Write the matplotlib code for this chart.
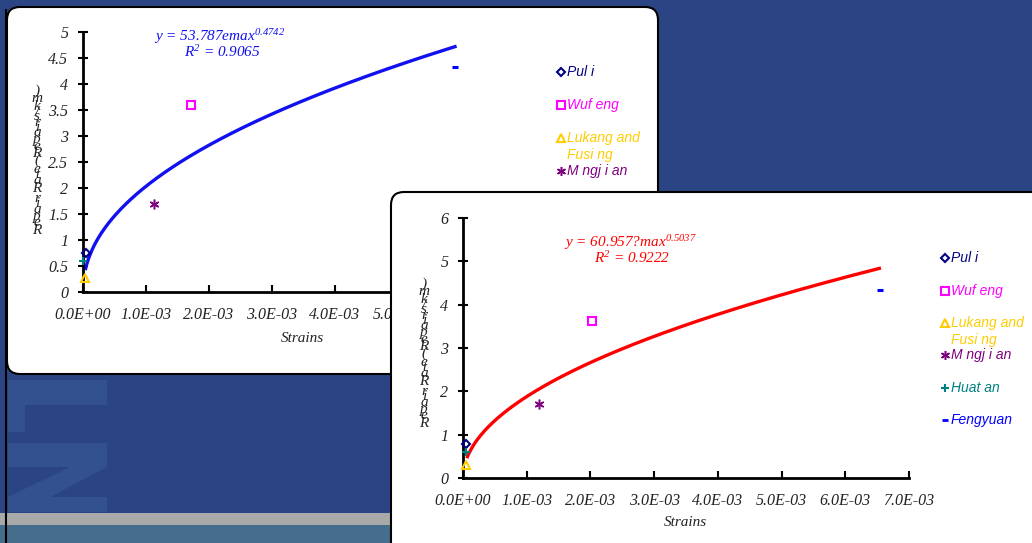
import numpy as np
import matplotlib
matplotlib.use('Agg')
import matplotlib.pyplot as plt
from matplotlib.patches import Rectangle, FancyBboxPatch, Polygon
from matplotlib.font_manager import FontProperties
from matplotlib.textpath import TextToPath

plt.rcParams['mathtext.fontset'] = 'custom'
plt.rcParams['mathtext.rm'] = 'Liberation Serif:italic'
plt.rcParams['mathtext.it'] = 'Liberation Serif:italic'

# ------------------------- data --------------------------------
sites = ['Pul i', 'Wuf eng', 'Lukang and', 'M ngj i an', 'Huat an', 'Fengyuan']
site_colors = ['#000080', '#FF00FF', '#FFCC00', '#800080', '#008080', '#0000FF']
site_markers = ['D', 's', '^', (6, 2, 0), '+', '_']

# left chart (blue fit)
left_strain = [0.05e-3, 1.71e-3, 0.03e-3, 1.13e-3, 0.0, 5.9e-3]
left_rate = [0.75, 3.6, 0.27, 1.69, 0.6, 4.33]
left_fit = (53.787, 0.4742)
left_fit_range = (3.6e-5, 5.93e-3)
left_eq = 'y = 53.787emax$^{0.4742}$'
left_r2 = 'R$^{2}$ = 0.9065'

# right chart (red fit)
right_strain = [0.05e-3, 2.02e-3, 0.04e-3, 1.2e-3, 0.05e-3, 6.55e-3]
right_rate = [0.78, 3.62, 0.3, 1.7, 0.6, 4.34]
right_fit = (60.957, 0.5037)
right_fit_range = (6e-5, 6.56e-3)
right_eq = 'y = 60.957?max$^{0.5037}$'
right_r2 = 'R$^{2}$ = 0.9222'

x_ticks = [0, 1e-3, 2e-3, 3e-3, 4e-3, 5e-3, 6e-3, 7e-3]
ylabel = 'Repair Rate (Repairs/km)'

# ------------------------- figure --------------------------------
W, H = 1032, 543
fig = plt.figure(figsize=(W / 100, H / 100), dpi=100)

serif = 'Liberation Serif'
sans = 'Liberation Sans'
ink = '#222222'


def fr(x, y):
    return x / W, 1 - y / H


def pixel_axes(z):
    a = fig.add_axes([0, 0, 1, 1], zorder=z)
    a.set_xlim(0, W)
    a.set_ylim(H, 0)
    a.axis('off')
    a.patch.set_visible(False)
    return a


# background slide
bg = pixel_axes(0)
bg.add_patch(Rectangle((0, 0), W, H, color='#2B4584'))
faint = '#33508F'
bg.add_patch(Rectangle((8, 380), 99, 25, color=faint, lw=0))
bg.add_patch(Rectangle((8, 405), 17, 27, color=faint, lw=0))
bg.add_patch(Rectangle((8, 443), 99, 24, color=faint, lw=0))
bg.add_patch(Polygon([(70, 467), (107, 467), (50, 497), (8, 497)], color=faint, lw=0))
bg.add_patch(Rectangle((8, 497), 99, 15, color=faint, lw=0))
bg.add_patch(Rectangle((0, 513), W, 12, color='#A9A9A9', lw=0))
bg.add_patch(Rectangle((0, 525), W, 20, color='#456D8C', lw=0))
bg.plot([5.5, 5.5], [10, H], color='black', lw=1.5)
bg.add_patch(FancyBboxPatch((7, 7), 651, 367, boxstyle='round,pad=0,rounding_size=13',
                            fc='white', ec='black', lw=1.5))

# right panel overlay
top = pixel_axes(2)
top.add_patch(FancyBboxPatch((391, 192), 700, 400, boxstyle='round,pad=0,rounding_size=13',
                             fc='white', ec='black', lw=1.5))

ttp = TextToPath()


def stacked_label(ax, s, x, y_bottom, size):
    # vertical text whose glyphs stayed upright
    prop = FontProperties(family=serif, style='italic', size=size)
    base = ttp.get_text_width_height_descent('xx', prop, ismath=False)[0]
    y = y_bottom
    for ch in s:
        adv = ttp.get_text_width_height_descent('x' + ch + 'x', prop, ismath=False)[0] - base
        adv = adv * fig.dpi / 72
        if ch != ' ':
            fx, fy = fr(x, y - adv / 2)
            ax.text(fx, fy, ch, transform=fig.transFigure, fontproperties=prop,
                    color=ink, ha='center', va='center', clip_on=False)
        y -= adv * 0.93


def draw_chart(ax, strain, rate, fit, fit_range, color, ymax, yticks, ylabels,
               eq, r2, eq_xy, lab_xy, leg_x, leg_ys, ylab_xy):
    ax.patch.set_visible(False)
    for s in ['top', 'right']:
        ax.spines[s].set_visible(False)
    for s in ['left', 'bottom']:
        ax.spines[s].set_linewidth(2)
    ax.set_xlim(0, 7e-3)
    ax.set_ylim(0, ymax)
    ax.set_xticks(x_ticks)
    ax.set_xticklabels(['{:.1E}'.format(v) for v in x_ticks])
    ax.set_yticks(yticks)
    ax.set_yticklabels(ylabels)
    ax.tick_params(axis='x', direction='in', length=5, width=1.5, pad=11)
    ax.tick_params(axis='y', direction='inout', length=7, width=1.5, pad=7)
    for t in ax.get_xticklabels() + ax.get_yticklabels():
        t.set_fontfamily(serif)
        t.set_fontstyle('italic')
        t.set_fontsize(11.5)
        t.set_color(ink)

    a, b = fit
    xf = np.linspace(fit_range[0], fit_range[1], 300)
    ax.plot(xf, a * xf ** b, color=color, lw=2.4, solid_capstyle='butt', clip_on=False)

    sizes = {'D': 4.5, 's': 5.5, '^': 5.5, '+': 6, '_': 5}
    for i in range(len(strain)):
        m = site_markers[i]
        filled = m in ['+', '_', (6, 2, 0)]
        ax.plot(strain[i], rate[i], marker=m, ls='none',
                ms=sizes.get(m, 7), mew=2.2 if m == '_' else (1.1 if m == (6, 2, 0) else 1.5),
                mfc=site_colors[i] if filled else 'none',
                mec=site_colors[i], clip_on=False, zorder=5)

    fx, fy = fr(*eq_xy)
    ax.text(fx, fy, eq, transform=fig.transFigure, color=color, fontsize=11,
            fontfamily=serif, style='italic', ha='center', va='center')
    fx, fy = fr(eq_xy[0] + 2, eq_xy[1] + 15)
    ax.text(fx, fy, r2, transform=fig.transFigure, color=color, fontsize=11,
            fontfamily=serif, style='italic', ha='center', va='center')

    fx, fy = fr(*lab_xy)
    ax.text(fx, fy, 'Strains', transform=fig.transFigure, color=ink, fontsize=11,
            fontfamily=serif, style='italic', ha='center', va='center')

    # legend drawn by hand
    leg_sizes = {'D': 4, 's': 6, '^': 5.5, '+': 6, '_': 5}
    for i, name in enumerate(sites):
        m = site_markers[i]
        filled = m in ['+', '_', (6, 2, 0)]
        mx, my = fr(leg_x, leg_ys[i])
        ax.plot([mx], [my], transform=fig.transFigure, marker=m, ls='none',
                ms=leg_sizes.get(m, 6.5), mew=2 if m == '_' else (1.1 if m == (6, 2, 0) else 1.5),
                mfc=site_colors[i] if filled else 'none', mec=site_colors[i], clip_on=False)
        tx, ty = fr(leg_x + 6, leg_ys[i])
        ax.text(tx, ty, name, transform=fig.transFigure, color=site_colors[i], fontsize=10,
                fontfamily=sans, style='italic', ha='left', va='center', clip_on=False)
        if name == 'Lukang and':
            tx, ty = fr(leg_x + 6, leg_ys[i] + 17)
            ax.text(tx, ty, 'Fusi ng', transform=fig.transFigure, color=site_colors[i],
                    fontsize=10, fontfamily=sans, style='italic', ha='left', va='center')

    stacked_label(ax, ylabel, ylab_xy[0], ylab_xy[1], 11)


ax1 = fig.add_axes([83 / W, 1 - 292 / H, 441 / W, 260 / H], zorder=1)
draw_chart(ax1, left_strain, left_rate, left_fit, left_fit_range, '#1010F0', 5,
           np.arange(0, 5.01, 0.5), ['0', '0.5', '1', '1.5', '2', '2.5', '3', '3.5', '4', '4.5', '5'],
           left_eq, left_r2, (220, 37), (302, 338), 561, [72, 105, 138, 171, 204, 237], (37, 235))

ax2 = fig.add_axes([463 / W, 1 - 478 / H, 446 / W, 260 / H], zorder=3)
draw_chart(ax2, right_strain, right_rate, right_fit, right_fit_range, '#FF0000', 6,
           [0, 1, 2, 3, 4, 5, 6], ['0', '1', '2', '3', '4', '5', '6'],
           right_eq, right_r2, (630, 243), (685, 523), 945, [258, 291, 323, 355, 388, 420], (424, 428))

fig.savefig('out.png', dpi=100)
